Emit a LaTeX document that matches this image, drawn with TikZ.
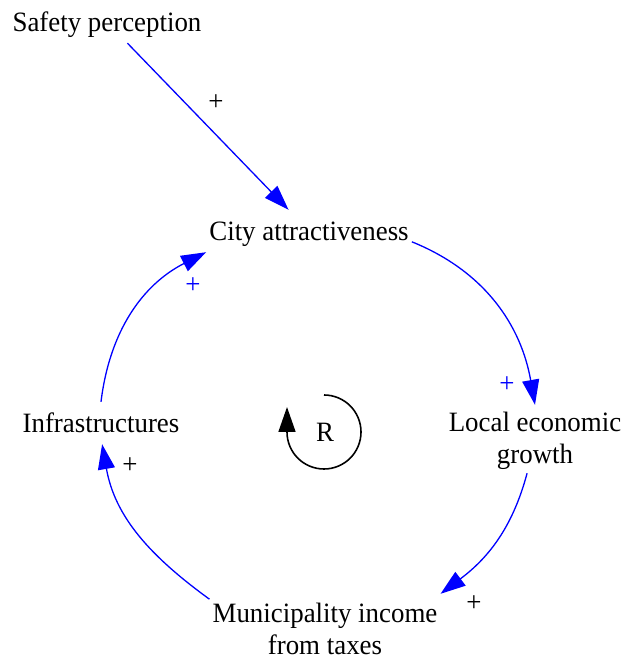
\documentclass[tikz,border=0pt]{standalone}
\usepackage{fontspec}
\setmainfont{Liberation Serif}[FakeStretch=0.96]
\usetikzlibrary{arrows.meta}
\definecolor{linkblue}{RGB}{0,0,255}
\begin{document}
\begin{tikzpicture}[x=1pt,y=1pt,
  var/.style={inner xsep=3pt, inner ysep=0pt, minimum height=42pt, text height=23pt, text depth=4pt, font=\fontsize{28}{32}\selectfont},
  var2/.style={inner xsep=3pt, inner ysep=0pt, minimum height=68pt, text height=20pt, font=\fontsize{28}{32}\selectfont},
  link/.style={draw=linkblue, line width=1.3pt, -{Triangle[length=25pt,width=17pt]}, fill=none},
  pol/.style={inner sep=0pt, font=\fontsize{28}{32}\selectfont},
  loopline/.style={draw=black, line width=1.6pt, -{Triangle[length=25pt,width=17pt]}}]
\useasboundingbox (0,0) rectangle (625,658);
\node[var]  (saf)   at (107,636) {Safety perception};
\node[var]  (city)  at (309,427) {City attractiveness};
\node[var2, text depth=34pt] (local) at (535,219) {\begin{tabular}[t]{@{}c@{}}Local economic\\growth\end{tabular}};
\node[var]  (infra) at (101,235) {Infrastructures};
\node[var2, text depth=30pt] (muni)  at (325,30)  {\begin{tabular}[t]{@{}c@{}}Municipality income\\from taxes\end{tabular}};
\node[pol] (R) at (325,226) {R};
\coordinate (loopstart) at (324,263);
\draw[loopline] (loopstart) arc[start angle=90, end angle=-180, radius=37pt] -- ++(0,25);
\draw[link] (saf) -- (city);
\draw[link] (city.-6) to[out=-22, in=100] (local.north);
\draw[link] (local.-103) to[out=-105, in=37] (muni.north east);
\draw[link] (muni.166) to[out=144, in=-80] (infra.-87);
\draw[link] (infra.north) to[out=83, in=-153] (city.south west);
\node[pol] (p1) at (216,555) {+};
\node[pol, text=linkblue] (p2) at (507,273) {+};
\node[pol] (p3) at (474,54) {+};
\node[pol] (p4) at (130,192) {+};
\node[pol, text=linkblue] (p5) at (193,372) {+};
\end{tikzpicture}
\end{document}
